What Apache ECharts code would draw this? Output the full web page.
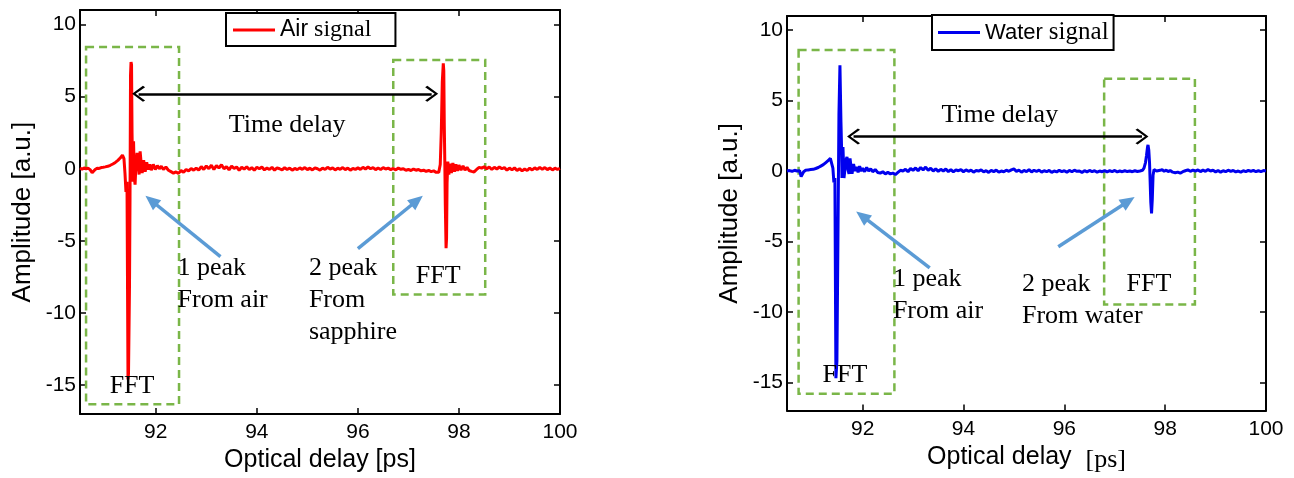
<!DOCTYPE html>
<html>
<head>
<meta charset="utf-8">
<script src="https://cdn.jsdelivr.net/npm/echarts@6/dist/echarts.min.js"></script>
<style>
html,body{margin:0;padding:0;background:#fff;}
#main{width:1294px;height:478px;}
</style>
</head>
<body>
<div id="main"></div>
<script>
// tick positions
var xTicks = [92, 94, 96, 98, 100];
var yTicks = [-15, -10, -5, 0, 5, 10];

// air signal [delay ps, amplitude a.u.]
var airSignal = [
 [90.50,0.05],[90.54,-0.03],[90.58,0.06],[90.62,0.0],[90.66,0.04],[90.70,-0.06],[90.74,-0.28],[90.77,-0.2],[90.80,-0.05],[90.84,0.04],
 [90.88,0.02],[90.92,0.08],[90.96,0.1],[91.00,0.13],[91.05,0.17],[91.10,0.24],[91.15,0.33],[91.20,0.44],[91.25,0.58],[91.30,0.76],
 [91.34,0.95],[91.37,0.7],[91.39,-0.3],[91.41,-1.6],[91.43,-0.9],[91.45,-14.6],[91.46,-14.2],[91.48,-8],[91.49,-2],[91.50,6.5],
 [91.51,7.4],[91.52,7.2],[91.53,2.5],[91.545,-0.9],[91.56,1.9],[91.575,-0.6],[91.59,-1.1],[91.61,0.5],[91.63,1.1],[91.65,0.3],
 [91.67,-0.4],[91.69,1.2],[91.71,0.4],[91.73,-0.3],[91.76,0.6],[91.79,-0.2],[91.82,0.45],[91.85,-0.05],[91.88,0.3],[91.91,-0.1],
 [91.95,0.3],[91.99,-0.05],[92.03,0.22],[92.07,0.0],[92.11,0.18],[92.15,-0.05],[92.20,0.12],[92.25,-0.1],[92.30,-0.2],[92.35,-0.3],
 [92.40,-0.22],[92.45,-0.32],[92.50,-0.12],[92.55,-0.25],[92.60,-0.05],[92.65,-0.15],[92.70,0.02],[92.75,-0.1],[92.80,0.05],[92.85,-0.1],
 [92.90,0.15],[92.95,-0.05],[93.00,0.2],[93.05,0.0],[93.10,0.25],[93.15,-0.05],[93.20,0.22],[93.25,0.05],[93.30,0.28],[93.35,0.0],
 [93.40,0.15],[93.45,-0.08],[93.50,0.18],[93.55,0.02],[93.60,0.12],[93.65,-0.1],[93.70,0.1],[93.75,-0.02],[93.80,0.14],[93.85,-0.06],
 [93.90,0.08],[93.95,-0.1],[94.00,0.1],[94.05,0.0],[94.10,0.12],[94.15,-0.08],[94.20,0.05],[94.25,-0.05],[94.30,0.1],[94.35,-0.1],
 [94.40,0.06],[94.45,0.0],[94.50,-0.08],[94.55,0.08],[94.60,-0.05],[94.65,0.05],[94.70,-0.1],[94.75,0.02],[94.80,-0.06],[94.85,0.06],
 [94.90,-0.04],[94.95,0.08],[95.00,-0.06],[95.05,0.04],[95.10,-0.08],[95.15,0.06],[95.20,0.0],[95.25,-0.1],[95.30,0.05],[95.35,-0.05],
 [95.40,0.1],[95.45,-0.02],[95.50,0.06],[95.55,-0.08],[95.60,0.04],[95.65,-0.04],[95.70,0.08],[95.75,-0.06],[95.80,0.05],[95.85,-0.1],
 [95.90,0.02],[95.95,-0.05],[96.00,0.06],[96.05,-0.04],[96.10,0.1],[96.15,-0.02],[96.20,0.12],[96.25,0.0],[96.30,0.08],[96.35,-0.06],
 [96.40,0.05],[96.45,-0.05],[96.50,0.08],[96.55,-0.02],[96.60,0.04],[96.65,-0.06],[96.70,0.02],[96.75,-0.08],[96.80,0.05],[96.85,-0.04],
 [96.90,0.0],[96.95,-0.1],[97.00,-0.05],[97.05,-0.12],[97.10,-0.02],[97.15,-0.1],[97.20,-0.05],[97.25,-0.15],[97.30,-0.1],[97.35,-0.18],
 [97.40,-0.12],[97.45,-0.2],[97.50,-0.15],[97.55,-0.25],[97.60,-0.25],[97.63,0.3],[97.65,2.5],[97.67,6.0],[97.69,7.3],[97.70,6.8],
 [97.71,3.0],[97.72,0.5],[97.73,-2.5],[97.745,-5.5],[97.755,-4.8],[97.765,-1.0],[97.78,0.5],[97.80,-0.4],[97.82,0.35],[97.85,-0.3],
 [97.88,0.4],[97.91,-0.2],[97.94,0.3],[97.97,-0.15],[98.00,0.25],[98.04,-0.1],[98.08,0.2],[98.12,-0.1],[98.16,0.1],[98.20,-0.12],
 [98.25,-0.18],[98.30,-0.22],[98.35,-0.05],[98.40,0.1],[98.45,0.04],[98.50,0.14],[98.55,0.0],[98.60,0.12],[98.65,-0.05],[98.70,0.1],
 [98.75,-0.02],[98.80,0.12],[98.85,0.0],[98.90,0.08],[98.95,-0.1],[99.00,0.05],[99.05,-0.08],[99.10,0.06],[99.15,-0.12],[99.20,0.0],
 [99.25,-0.15],[99.30,-0.02],[99.35,-0.12],[99.40,0.04],[99.45,-0.08],[99.50,0.06],[99.55,-0.05],[99.60,0.1],[99.65,-0.04],[99.70,0.08],
 [99.75,-0.06],[99.80,0.05],[99.85,-0.08],[99.90,0.04],[99.95,-0.05],[100.00,0.02]
];

// water signal [delay ps, amplitude a.u.]
var waterSignal = [
 [90.50,0.0],[90.55,0.03],[90.60,-0.02],[90.65,0.05],[90.70,0.0],[90.75,0.02],[90.78,-0.4],[90.80,-0.3],[90.83,-0.05],[90.87,0.05],
 [90.92,0.08],[90.97,0.1],[91.02,0.12],[91.07,0.18],[91.12,0.25],[91.17,0.35],[91.22,0.45],[91.27,0.6],[91.32,0.75],[91.36,0.9],
 [91.39,0.85],[91.41,0.2],[91.43,-0.8],[91.45,-0.5],[91.47,-14.7],[91.49,-13.5],[91.51,-5],[91.53,4],[91.55,7.5],[91.56,7.4],
 [91.57,3.5],[91.58,2.0],[91.59,-0.5],[91.61,1.7],[91.63,-0.5],[91.65,-0.5],[91.67,0.8],[91.69,1.0],[91.71,0.1],[91.73,-0.2],
 [91.75,0.9],[91.77,0.3],[91.79,-0.2],[91.82,0.5],[91.85,0.0],[91.88,0.3],[91.91,-0.1],[91.94,0.35],[91.97,0.0],[92.00,0.2],
 [92.04,-0.05],[92.08,0.25],[92.12,0.0],[92.16,0.15],[92.20,-0.05],[92.25,0.1],[92.30,-0.1],[92.35,-0.15],[92.40,-0.05],[92.45,-0.2],
 [92.50,-0.1],[92.55,-0.2],[92.60,-0.15],[92.65,-0.25],[92.70,-0.1],[92.75,0.05],[92.80,0.0],[92.85,0.12],[92.90,-0.05],[92.95,0.18],
 [93.00,0.05],[93.05,0.22],[93.10,0.02],[93.15,0.25],[93.20,0.08],[93.25,0.28],[93.30,0.05],[93.35,0.2],[93.40,0.0],[93.45,0.15],
 [93.50,-0.02],[93.55,0.12],[93.60,0.0],[93.65,0.14],[93.70,-0.04],[93.75,0.1],[93.80,-0.06],[93.85,0.08],[93.90,0.02],[93.95,0.1],
 [94.00,-0.05],[94.05,0.08],[94.10,-0.02],[94.15,0.06],[94.20,-0.08],[94.25,0.04],[94.30,0.0],[94.35,0.08],[94.40,-0.06],[94.45,0.02],
 [94.50,-0.1],[94.55,0.05],[94.60,-0.04],[94.65,0.06],[94.70,-0.08],[94.75,0.0],[94.80,-0.05],[94.85,0.06],[94.90,-0.02],[94.95,0.08],
 [95.00,0.15],[95.05,-0.02],[95.10,0.06],[95.15,-0.08],[95.20,0.04],[95.25,-0.04],[95.30,0.1],[95.35,-0.06],[95.40,0.05],[95.45,-0.02],
 [95.50,0.06],[95.55,-0.08],[95.60,0.02],[95.65,-0.05],[95.70,0.04],[95.75,-0.1],[95.80,0.0],[95.85,-0.06],[95.90,0.05],[95.95,-0.04],
 [96.00,0.02],[96.05,-0.08],[96.10,0.04],[96.15,-0.05],[96.20,0.06],[96.25,-0.02],[96.30,0.0],[96.35,-0.1],[96.40,0.02],[96.45,-0.06],
 [96.50,0.04],[96.55,-0.04],[96.60,0.02],[96.65,-0.08],[96.70,0.0],[96.75,-0.05],[96.80,0.03],[96.85,-0.06],[96.90,0.02],[96.95,-0.04],
 [97.00,0.04],[97.05,-0.06],[97.10,0.0],[97.15,-0.05],[97.20,0.02],[97.25,-0.04],[97.30,0.0],[97.35,-0.05],[97.40,0.02],[97.45,-0.03],
 [97.50,0.0],[97.55,0.05],[97.58,0.2],[97.61,0.6],[97.63,1.1],[97.65,1.7],[97.66,1.85],[97.675,1.5],[97.69,0.6],[97.70,-0.5],
 [97.715,-2.2],[97.73,-3.0],[97.745,-2.0],[97.76,-0.3],[97.78,0.1],[97.80,0.15],[97.83,0.0],[97.86,0.12],[97.90,0.05],[97.94,0.1],
 [97.98,-0.02],[98.02,0.06],[98.06,-0.04],[98.10,0.04],[98.15,-0.08],[98.20,-0.12],[98.25,-0.08],[98.30,-0.15],[98.35,-0.05],[98.40,0.02],
 [98.45,0.08],[98.50,-0.02],[98.55,0.06],[98.60,0.0],[98.65,0.08],[98.70,-0.04],[98.75,0.06],[98.80,-0.02],[98.85,0.1],[98.90,0.0],
 [98.95,0.05],[99.00,-0.06],[99.05,0.04],[99.10,-0.08],[99.15,0.02],[99.20,-0.05],[99.25,0.06],[99.30,-0.02],[99.35,0.04],[99.40,-0.06],
 [99.45,0.0],[99.50,-0.08],[99.55,0.02],[99.60,-0.04],[99.65,0.05],[99.70,-0.03],[99.75,0.04],[99.80,-0.05],[99.85,0.02],[99.90,-0.04],
 [99.95,0.03],[100.00,0.0]
];

var SANS = '"Liberation Sans", Arial, sans-serif';
var SERIF = '"Liberation Serif", "Times New Roman", serif';
var GREEN = '#7ab648';
var BLUE_ARROW = '#5b9bd5';
var CHEVRON = 'path://M0,0 L10,8 L8.4,9.6 L0,2.6 L-8.4,9.6 L-10,8 Z';

function xAx(grid, pos, withName, nameText) {
	return {
		gridIndex: grid, type: 'value', position: pos, min: 90.5, max: 100,
		axisLine: {show: true, onZero: false, lineStyle: {color: '#000', width: 2}},
		axisTick: {show: true, inside: true, length: 6, customValues: xTicks, lineStyle: {color: '#000', width: 1.5}},
		axisLabel: {show: withName, customValues: xTicks, color: '#000', fontSize: 21, fontFamily: SANS, margin: 8},
		splitLine: {show: false},
		name: withName ? nameText : '',
		nameLocation: 'middle', nameGap: 27,
		nameTextStyle: {color: '#000', fontSize: 25, fontFamily: SANS, rich: {
			s: {fontSize: 25, fontFamily: SANS, color: '#000'},
			t: {fontSize: 26, fontFamily: SERIF, color: '#000', padding: [6, 0, 0, 0]}
		}}
	};
}
function yAx(grid, pos, withName) {
	return {
		gridIndex: grid, type: 'value', position: pos, min: -17, max: 11,
		axisLine: {show: true, onZero: false, lineStyle: {color: '#000', width: 2}},
		axisTick: {show: true, inside: true, length: 6, customValues: yTicks, lineStyle: {color: '#000', width: 1.5}},
		axisLabel: {show: withName, customValues: yTicks, color: '#000', fontSize: 21, fontFamily: SANS, margin: 4},
		splitLine: {show: false},
		name: withName ? 'Amplitude [a.u.]' : '',
		nameLocation: 'middle', nameGap: 44,
		nameTextStyle: {color: '#000', fontSize: 26, fontFamily: SANS}
	};
}
function txt(t, a, s, pos) {
	return {coord: [t, a], value: 0, label: {formatter: s, position: pos || 'inside'}};
}
function box(t1, a1, t2, a2) {
	return [{coord: [t1, a1]}, {coord: [t2, a2]}];
}
function blueArrow(t1, a1, t2, a2) {
	return [{coord: [t1, a1], symbol: 'none', lineStyle: {color: BLUE_ARROW, width: 3.5, type: 'solid'}},
	        {coord: [t2, a2], symbol: 'triangle', symbolSize: [13, 15]}];
}
function blackArrow(t1, t2, a) {
	return [{coord: [t1, a], symbol: CHEVRON, symbolSize: [16, 13], lineStyle: {color: '#000', width: 2.5, type: 'solid'}},
	        {coord: [t2, a], symbol: CHEVRON, symbolSize: [16, 13]}];
}
var markTextStyle = {
	show: true, color: '#000', fontSize: 26, fontFamily: SERIF, lineHeight: 32, distance: 0
};
function legendOf(name, left, top, pad, sansWord, sansSize, serifSize) {
	return {
		data: [name], left: left, top: top,
		backgroundColor: '#fff', borderColor: '#000', borderWidth: 2, borderRadius: 0,
		padding: pad, itemWidth: 42, itemHeight: 3, icon: 'rect',
		formatter: '{s|' + sansWord + '}{t|signal}',
		textStyle: {rich: {
			s: {fontSize: sansSize, fontFamily: SANS, color: '#000', padding: [0, 6, 0, 0]},
			t: {fontSize: serifSize, fontFamily: SERIF, color: '#000'}
		}}
	};
}

var myChart = echarts.init(document.getElementById('main'));
var option = {
	backgroundColor: '#fff',
	animation: false,
	grid: [
		{left: 80, top: 10, width: 480, height: 406},
		{left: 787, top: 16, width: 479, height: 410}
	],
	xAxis: [
		xAx(0, 'bottom', true, 'Optical delay [ps]'),
		xAx(0, 'top', false),
		xAx(1, 'bottom', true, '{s|Optical delay  }{t|[ps]}'),
		xAx(1, 'top', false)
	],
	yAxis: [
		yAx(0, 'left', true),
		yAx(0, 'right', false),
		yAx(1, 'left', true),
		yAx(1, 'right', false)
	],
	legend: [
		legendOf('Air signal', 226, 13, [5, 24, 4, 7], 'Air', 23, 24),
		legendOf('Water signal', 932, 15, [5, 5, 5, 6], 'Water', 22, 25)
	],
	series: [
		{
			name: 'Air signal', type: 'line', xAxisIndex: 0, yAxisIndex: 0,
			data: airSignal, symbol: 'none', color: '#ff0000',
			lineStyle: {color: '#ff0000', width: 3},
			markArea: {
				silent: true,
				itemStyle: {color: 'rgba(0,0,0,0)', borderColor: GREEN, borderWidth: 2.5, borderType: [8, 5]},
				data: [box(90.62, 8.44, 92.46, -16.32), box(96.70, 7.54, 98.52, -8.71)]
			},
			markLine: {
				silent: true, label: {show: false},
				lineStyle: {type: 'solid'},
				data: [
					blackArrow(91.66, 97.46, 5.19),
					blueArrow(93.28, -6.09, 91.91, -2.2),
					blueArrow(96.0, -5.53, 97.17, -2.2)
				]
			},
			markPoint: {
				silent: true, symbol: 'rect', symbolSize: 1,
				itemStyle: {color: 'rgba(0,0,0,0)'},
				label: markTextStyle,
				data: [
					txt(94.6, 3.04, 'Time delay'),
					txt(92.42, -8.02, '1 peak\nFrom air', 'right'),
					txt(95.02, -9.13, '2 peak\nFrom\nsapphire', 'right'),
					txt(91.53, -15.08, 'FFT'),
					txt(97.59, -7.47, 'FFT')
				]
			}
		},
		{
			name: 'Water signal', type: 'line', xAxisIndex: 2, yAxisIndex: 2,
			data: waterSignal, symbol: 'none', color: '#0000ee',
			lineStyle: {color: '#0000ee', width: 3},
			markArea: {
				silent: true,
				itemStyle: {color: 'rgba(0,0,0,0)', borderColor: GREEN, borderWidth: 2.5, borderType: [8, 5]},
				data: [box(90.73, 8.58, 92.63, -15.8), box(96.79, 6.54, 98.59, -9.47)]
			},
			markLine: {
				silent: true, label: {show: false},
				lineStyle: {type: 'solid'},
				data: [
					blackArrow(91.82, 97.54, 2.45),
					blueArrow(93.33, -6.88, 91.99, -3.19),
					blueArrow(95.88, -5.38, 97.27, -2.14)
				]
			},
			markPoint: {
				silent: true, symbol: 'rect', symbolSize: 1,
				itemStyle: {color: 'rgba(0,0,0,0)'},
				label: markTextStyle,
				data: [
					txt(94.72, 3.95, 'Time delay'),
					txt(92.59, -8.78, '1 peak\nFrom air', 'right'),
					txt(95.15, -9.13, '2 peak\nFrom water', 'right'),
					txt(91.65, -14.5, 'FFT'),
					txt(97.68, -8.04, 'FFT')
				]
			}
		}
	]
};
myChart.setOption(option);
</script>
</body>
</html>
